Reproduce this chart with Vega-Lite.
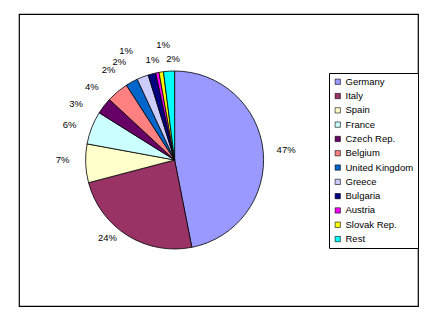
{
  "$schema": "https://vega.github.io/schema/vega-lite/v6.json",
  "width": 399,
  "height": 292,
  "autosize": {"type": "none"},
  "padding": {"left": 19, "top": 14, "right": 18, "bottom": 14},
  "background": "white",
  "view": {"stroke": "black", "strokeWidth": 1.2, "fill": "white"},
  "config": {
    "font": "Liberation Sans"
  },
  "data": {
    "values": [
      {"country": "Germany", "share": 46.9, "label": "47%", "order": 1},
      {"country": "Italy", "share": 24.0, "label": "24%", "order": 2},
      {"country": "Spain", "share": 7.0, "label": "7%", "order": 3},
      {"country": "France", "share": 6.0, "label": "6%", "order": 4},
      {"country": "Czech Rep.", "share": 3.0, "label": "3%", "order": 5},
      {"country": "Belgium", "share": 4.0, "label": "4%", "order": 6},
      {"country": "United Kingdom", "share": 2.2, "label": "2%", "order": 7},
      {"country": "Greece", "share": 2.1, "label": "2%", "order": 8},
      {"country": "Bulgaria", "share": 1.4, "label": "1%", "order": 9},
      {"country": "Austria", "share": 0.6, "label": "1%", "order": 10},
      {"country": "Slovak Rep.", "share": 0.8, "label": "1%", "order": 11},
      {"country": "Rest", "share": 2.0, "label": "2%", "order": 12}
    ]
  },
  "encoding": {
    "theta": {"field": "share", "type": "quantitative", "stack": true},
    "order": {"field": "order", "type": "quantitative"}
  },
  "layer": [
    {
      "mark": {"type": "arc", "outerRadius": 89, "stroke": "black", "strokeWidth": 0.8, "x": {"expr": "width*0.39"}},
      "encoding": {
        "color": {
          "field": "country",
          "type": "nominal",
          "sort": ["Germany", "Italy", "Spain", "France", "Czech Rep.", "Belgium", "United Kingdom", "Greece", "Bulgaria", "Austria", "Slovak Rep.", "Rest"],
          "scale": {
            "domain": ["Germany", "Italy", "Spain", "France", "Czech Rep.", "Belgium", "United Kingdom", "Greece", "Bulgaria", "Austria", "Slovak Rep.", "Rest"],
            "range": ["#9999FF", "#993366", "#FFFFCC", "#CCFFFF", "#660066", "#FF8080", "#0066CC", "#CCCCFF", "#000080", "#FF00FF", "#FFFF00", "#00FFFF"]
          },
          "legend": {
            "title": null,
            "orient": "none",
            "legendX": 310,
            "legendY": 59,
            "direction": "vertical",
            "strokeColor": "black",
            "fillColor": "white",
            "padding": 4,
            "symbolType": "square",
            "symbolSize": 28,
            "symbolStrokeColor": "black",
            "symbolStrokeWidth": 0.6,
            "labelFont": "Liberation Sans",
            "labelFontSize": 9.5,
            "labelColor": "black",
            "rowPadding": 3.3,
            "labelOffset": 3
          }
        }
      }
    },
    {
      "mark": {
        "type": "text",
        "radius": 104,
        "font": "Liberation Sans",
        "fontSize": 9.5,
        "color": "black",
        "x": {"expr": "width*0.39"},
        "dx": {"expr": "[8, -12, -8, -8, -16, -16, -16, -18, -22, -2, 4, 5][datum.order - 1]"},
        "dy": {"expr": "[0, -10, -4, 3, 7, 7, 1, -1, -8, 2, -12, 3][datum.order - 1]"}
      },
      "encoding": {
        "text": {"field": "label", "type": "nominal"}
      }
    }
  ]
}
